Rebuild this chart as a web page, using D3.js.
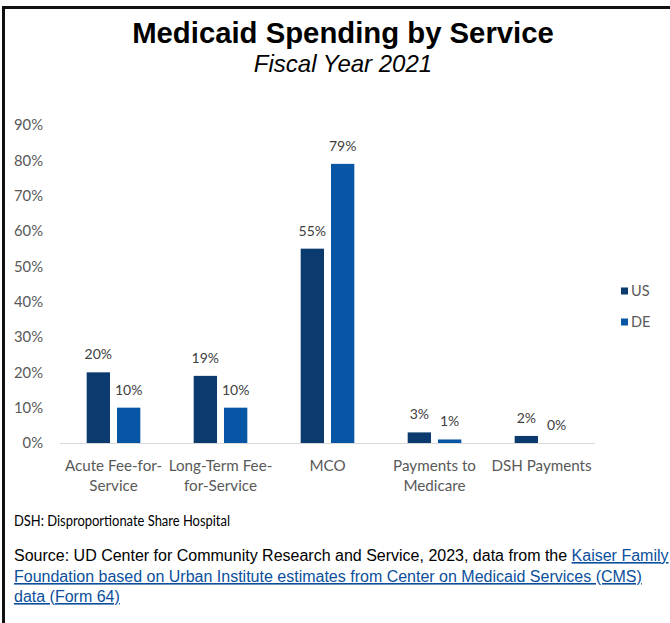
<!DOCTYPE html>
<html>
<head>
<meta charset="utf-8">
<script src="https://cdn.jsdelivr.net/npm/d3@7"></script>
<style>
  html, body { margin: 0; padding: 0; background: #fff; }
  svg { display: block; }
</style>
</head>
<body>
<svg id="chart" width="670" height="623"></svg>
<script>
// Medicaid spending shares by service type, FY2021
const categories = [
  ["Acute Fee-for-", "Service"],
  ["Long-Term Fee-", "for-Service"],
  ["MCO"],
  ["Payments to", "Medicare"],
  ["DSH Payments"]
];
const seriesNames = ["US", "DE"];
const usValues = [20, 19, 55, 3, 2];
const deValues = [10, 10, 79, 1, 0];
const yTicks = [0, 10, 20, 30, 40, 50, 60, 70, 80, 90];

const colors = { US: "#0b3a6e", DE: "#0656a5" };
const labelFont = "Lato, 'Open Sans', sans-serif";

const svg = d3.select("#chart");

// frame lines (top and left)
svg.append("line").attr("x1", 3).attr("x2", 670).attr("y1", 7.5).attr("y2", 7.5)
  .attr("stroke", "#111").attr("stroke-width", 3);
svg.append("line").attr("x1", 3.5).attr("x2", 3.5).attr("y1", 6).attr("y2", 623)
  .attr("stroke", "#111").attr("stroke-width", 3);

// titles
svg.append("text").attr("x", 343).attr("y", 43).attr("text-anchor", "middle")
  .attr("font-family", "'Liberation Sans', Arial, sans-serif").attr("font-weight", "bold")
  .attr("font-size", 29.3).attr("fill", "#000").text("Medicaid Spending by Service");
svg.append("text").attr("x", 343).attr("y", 72).attr("text-anchor", "middle")
  .attr("font-family", "'Liberation Sans', Arial, sans-serif").attr("font-style", "italic")
  .attr("font-size", 24).attr("fill", "#000").text("Fiscal Year 2021");

const rows = categories.map((c, i) => ({
  key: c.join(" "), lines: c,
  vals: [{ s: "US", v: usValues[i] }, { s: "DE", v: deValues[i] }]
}));

const x0 = d3.scaleBand().domain(rows.map(r => r.key)).range([60, 595]).padding(0);
const x1 = d3.scaleBand().domain(seriesNames).range([0, x0.bandwidth()])
  .paddingInner(0.231).paddingOuter(0.88);
const y = d3.scaleLinear().domain([0, 90]).range([443, 125]);

// y axis labels
const yAxis = d3.axisLeft(y).tickValues(yTicks).tickFormat(d => d + "%").tickSize(0).tickPadding(0);
const gy = svg.append("g").attr("transform", "translate(43,0)").call(yAxis);
gy.select(".domain").remove();
gy.selectAll("text").attr("font-family", labelFont).attr("font-size", 14.8)
  .attr("fill", "#595959");

// baseline
svg.append("line").attr("x1", 60).attr("x2", 595).attr("y1", y(0) + 0.5).attr("y2", y(0) + 0.5)
  .attr("stroke", "#d9d9d9").attr("stroke-width", 1);

// bars
const groups = svg.append("g").selectAll("g").data(rows).join("g")
  .attr("transform", d => `translate(${x0(d.key)},0)`);
groups.selectAll("rect").data(d => d.vals).join("rect")
  .attr("x", d => x1(d.s)).attr("width", x1.bandwidth())
  .attr("y", d => y(d.v)).attr("height", d => y(0) - y(d.v))
  .attr("fill", d => colors[d.s]);
groups.selectAll("text.val").data(d => d.vals).join("text").attr("class", "val")
  .attr("x", d => x1(d.s) + x1.bandwidth() / 2).attr("y", d => y(d.v) - 13)
  .attr("text-anchor", "middle").attr("font-family", labelFont).attr("font-size", 14)
  .attr("fill", "#404040").text(d => d.v + "%");

// category labels
const xAxis = d3.axisBottom(x0).tickSize(0).tickFormat("");
const gx = svg.append("g").attr("transform", `translate(0,${y(0)})`).call(xAxis);
gx.select(".domain").remove();
gx.selectAll(".tick").each(function (k) {
  const r = rows.find(rr => rr.key === k);
  const t = d3.select(this).append("text").attr("text-anchor", "middle")
    .attr("font-family", labelFont).attr("font-size", 15.2).attr("fill", "#595959");
  r.lines.forEach((ln, i) => {
    t.append("tspan").attr("x", 0).attr("y", 28 + i * 20).text(ln);
  });
});

// legend
const legend = svg.append("g").attr("transform", "translate(621,0)");
seriesNames.forEach((s, i) => {
  const cy = 291 + i * 31;
  legend.append("rect").attr("x", 0).attr("y", cy - 3.5).attr("width", 7).attr("height", 7)
    .attr("fill", colors[s]);
  legend.append("text").attr("x", 10).attr("y", cy).attr("dy", "0.35em")
    .attr("font-family", labelFont).attr("font-size", 14.5).attr("fill", "#595959").text(s);
});

// footnotes
svg.append("text").attr("x", 14).attr("y", 526)
  .attr("font-family", labelFont).attr("font-size", 14.8).attr("fill", "#000")
  .attr("textLength", 216).attr("lengthAdjust", "spacingAndGlyphs")
  .text("DSH: Disproportionate Share Hospital");

const linkColor = "#0b4f9c";
const src = svg.append("g").attr("font-family", "'Liberation Sans', Arial, sans-serif")
  .attr("font-size", 16);
const l1 = src.append("text").attr("x", 14).attr("y", 561);
l1.append("tspan").attr("fill", "#000")
  .text("Source: UD Center for Community Research and Service, 2023, data from the ");
l1.append("tspan").attr("fill", linkColor).attr("text-decoration", "underline").text("Kaiser Family");
src.append("text").attr("x", 14).attr("y", 582).attr("fill", linkColor)
  .attr("text-decoration", "underline")
  .text("Foundation based on Urban Institute estimates from Center on Medicaid Services (CMS)");
src.append("text").attr("x", 14).attr("y", 602).attr("fill", linkColor)
  .attr("text-decoration", "underline").text("data (Form 64)");
</script>
</body>
</html>
